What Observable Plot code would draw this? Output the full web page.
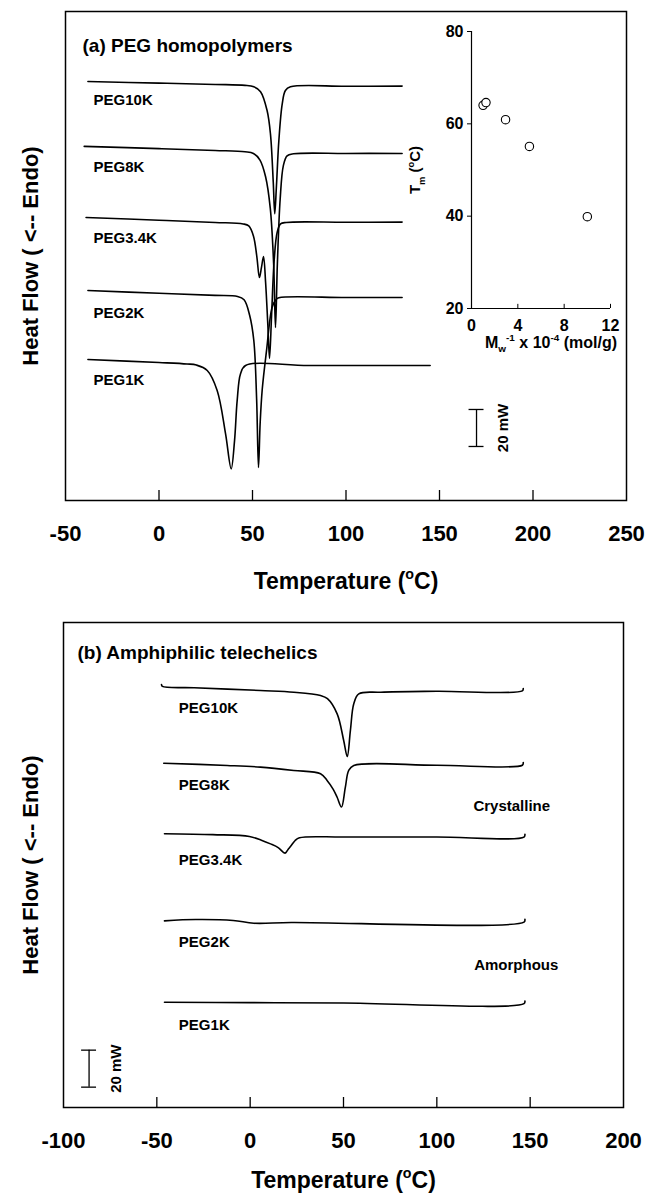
<!DOCTYPE html>
<html><head><meta charset="utf-8">
<script src="https://cdn.jsdelivr.net/npm/d3@7"></script>
<script src="https://cdn.jsdelivr.net/npm/@observablehq/plot@0.6"></script>
<style>
body{margin:0;background:#fff;}
#wrap{position:relative;width:648px;height:1203px;background:#fff;}
#wrap svg{position:absolute;overflow:visible;}
</style></head><body><div id="wrap"></div>
<script>
// ---------- DATA ----------
// Panel (a) PEG homopolymers : [Temperature (°C), heat flow (mW, offset)]
const xTicksA = [-50, 0, 50, 100, 150, 200, 250];
const innerTicksA = [0, 50, 100, 150, 200];
const a_PEG10K = [[-38,226.5],[0,225.6],[30,224.9],[46,224.4],[50.7,223.6],[54.3,221],[57.8,210.8],[59.6,198.2],[61.1,172],[61.9,155],[62.8,170],[64.1,194.6],[65.9,214.4],[67.6,221.6],[70.3,223.6],[100,223.9],[130,224]];
const a_PEG8K = [[-40,191.4],[0,190.2],[30,189.2],[46,188.5],[50.5,187.6],[54,184],[57,175],[59.5,158],[61.3,128],[62.3,93.5],[63.3,128],[64.8,163],[66.5,181],[68.5,186.3],[72,187.4],[100,187.6],[130,187.6]];
const a_PEG3_4K = [[-39,153],[0,151.5],[30,150.3],[45,149.5],[48,148.4],[50.5,143],[52.3,132],[53.7,120.5],[54.8,126],[55.9,131.9],[57,118],[58.2,95],[59.1,76.8],[60.2,100],[61.6,130],[63.2,145],[65,149.5],[68,150.3],[100,150.4],[130,150.5]];
const a_PEG2K = [[-38,113.5],[0,112],[30,110.9],[42,110.3],[45.5,108.5],[48.5,100],[50.7,86.5],[52.2,55],[53.2,17.8],[54.1,42],[55.2,60],[57.5,81],[60.5,104.5],[62.5,108.5],[64.1,109.6],[100,109.7],[130,109.7]];
const a_PEG1K = [[-38,76.2],[0,74.6],[15,73.8],[20,73.2],[25.8,70.3],[31.1,59.5],[35.6,36],[38.6,17.1],[40.4,32.4],[41.8,54],[43.6,68.5],[46.3,73],[80,73],[145,73]];
const labelsA = [
  {name: "PEG10K", T: -35, HF: 216.2},
  {name: "PEG8K", T: -35, HF: 180},
  {name: "PEG3.4K", T: -35, HF: 141.6},
  {name: "PEG2K", T: -35, HF: 101.2},
  {name: "PEG1K", T: -35, HF: 65.2}
];
const barA = [{T: 169.8, lo: 29.2, hi: 49.2, labelT: 184.2}];

// Inset: Tm vs 1/Mw
const insetMw = [1.0, 1.25, 2.94, 5.0, 10.0];
const insetTm = [64.0, 64.6, 60.9, 55.1, 39.9];
const insetXTicks = [0, 4, 8, 12];
const insetYTicks = [20, 40, 60, 80];

// Panel (b) Amphiphilic telechelics
const xTicksB = [-100, -50, 0, 50, 100, 150, 200];
const innerTicksB = [-50, 0, 50, 100, 150];
const b_PEG10K = [[-47.5,228.6],[-47,227.6],[-30,226.9],[5.5,225.4],[23.4,224.5],[37.7,222.7],[41.4,221],[46.6,212.8],[50.1,198.4],[52,189.7],[53.7,203.8],[55.5,218.2],[58.2,223.6],[70,224.5],[100,225],[145.8,225.2],[146.3,226.5]];
const b_PEG8K = [[-46.3,186.1],[-12.3,184.9],[5.5,184],[23.4,182.2],[37.7,180.4],[41.2,176.8],[44.5,172],[46.6,167.7],[48.9,162.4],[51,173.2],[52.8,182.2],[55.5,184.9],[100,185],[145.8,185],[146.3,186.5]];
const b_PEG3_4K = [[-45.9,148],[-20,147.5],[-0.4,146.5],[6,144.5],[10.9,142.5],[15,140.5],[18.7,137.5],[20.3,139.5],[22,141.6],[24,144.2],[26.4,145.8],[50,146.2],[100,146.2],[146.7,146.2],[147.2,147.7]];
const b_PEG2K = [[-45.9,100.9],[-29.2,101.6],[-9.1,101.1],[2,99.6],[22,100],[146.7,100.2],[147.2,101.7]];
const b_PEG1K = [[-45.9,56.9],[0,56.7],[50,56.5],[146.7,56.1],[147.2,57.5]];
const labelsB = [
  {name: "PEG10K", T: -38.2, HF: 215.7},
  {name: "PEG8K", T: -38.2, HF: 174},
  {name: "PEG3.4K", T: -38.2, HF: 133.5},
  {name: "PEG2K", T: -38.2, HF: 89.4},
  {name: "PEG1K", T: -38.2, HF: 44.3}
];
const notesB = [
  {name: "Crystalline", T: 119.6, HF: 162.7},
  {name: "Amorphous", T: 120, HF: 76.8}
];
const barB = [{T: -86.3, lo: 11, hi: 31, labelT: -71.6}];

// ---------- DRAW ----------
const FONT = "'Liberation Sans', Arial, Helvetica, sans-serif";
const PXPERMW = 1.85;
const TICKLEN = 10 / PXPERMW;
const wrap = document.getElementById("wrap");

function caps(bar, half) {
  return bar.flatMap(b => [{y: b.lo, x1: b.T - half, x2: b.T + half}, {y: b.hi, x1: b.T - half, x2: b.T + half}]);
}
const lineOpts = {x: d => d[0], y: d => d[1], curve: "catmull-rom", stroke: "black", strokeWidth: 1.6};

function setRich(svg, match, parts, fs) {
  svg.querySelectorAll("text").forEach(t => {
    if (t.textContent !== match) return;
    while (t.firstChild) t.removeChild(t.firstChild);
    let cur = 0;
    for (const [s, shift, scale] of parts) {
      const ts = document.createElementNS("http://www.w3.org/2000/svg", "tspan");
      const target = shift * fs;
      ts.setAttribute("dy", String(target - cur));
      cur = target;
      if (scale !== 1) ts.setAttribute("font-size", String(fs * scale));
      ts.textContent = s;
      t.appendChild(ts);
    }
  });
}

function panel(o) {
  return Plot.plot({
    width: 648, height: o.height,
    marginTop: o.mt, marginBottom: o.mb, marginLeft: o.ml, marginRight: o.mr,
    style: {fontFamily: FONT, fontWeight: "bold", background: "transparent", color: "black"},
    x: {domain: o.xDomain},
    y: {domain: [0, o.plotH / PXPERMW], axis: null},
    marks: [
      Plot.frame({stroke: "black", strokeWidth: 1.5}),
      Plot.ruleX(o.innerTicks, {y1: 0, y2: TICKLEN, stroke: "black", strokeWidth: 1.3}),
      Plot.axisX({ticks: o.xTicks, tickSize: 0, tickPadding: 25, fontSize: 22, fontWeight: "bold", label: null, tickFormat: d => String(d)}),
      ...o.curves.map(c => Plot.line(c, lineOpts)),
      Plot.text(o.labels, {x: "T", y: "HF", text: "name", textAnchor: "start", fontSize: 15, fontWeight: "bold"}),
      Plot.text(o.notes || [], {x: "T", y: "HF", text: "name", textAnchor: "start", fontSize: 15, fontWeight: "bold"}),
      Plot.ruleX(o.bar, {x: "T", y1: "lo", y2: "hi", stroke: "black", strokeWidth: 1.3}),
      Plot.ruleY(caps(o.bar, 4), {y: "y", x1: "x1", x2: "x2", stroke: "black", strokeWidth: 1.3}),
      Plot.text(o.bar, {x: "labelT", y: b => (b.lo + b.hi) / 2, text: () => "20 mW", rotate: -90, textAnchor: "middle", fontSize: 15, fontWeight: "bold"}),
      Plot.text([o.title], {frameAnchor: "top-left", textAnchor: "start", dx: o.titleDx, dy: o.titleDy, fontSize: 19, fontWeight: "bold"}),
      Plot.text(["Temperature (oC)"], {frameAnchor: "bottom", textAnchor: "middle", dy: o.xTitleDy, fontSize: 23, fontWeight: "bold"}),
      Plot.text(["Heat Flow ( <-- Endo)"], {frameAnchor: "left", textAnchor: "middle", dx: o.yTitleDx, rotate: -90, fontSize: 22, fontWeight: "bold"})
    ]
  });
}

const topPlot = panel({
  height: 611, mt: 11, mb: 111, ml: 65, mr: 22, plotH: 489,
  xDomain: [-50, 250], xTicks: xTicksA, innerTicks: innerTicksA,
  curves: [a_PEG10K, a_PEG8K, a_PEG3_4K, a_PEG2K, a_PEG1K],
  labels: labelsA, bar: barA,
  title: "(a) PEG homopolymers", titleDx: 17, titleDy: 27, xTitleDy: 88, yTitleDx: -35
});
topPlot.style.left = "0px"; topPlot.style.top = "0px";
wrap.appendChild(topPlot);

const botPlot = panel({
  height: 592, mt: 11, mb: 96, ml: 63, mr: 25, plotH: 485,
  xDomain: [-100, 200], xTicks: xTicksB, innerTicks: innerTicksB,
  curves: [b_PEG10K, b_PEG8K, b_PEG3_4K, b_PEG2K, b_PEG1K],
  labels: labelsB, notes: notesB, bar: barB,
  title: "(b) Amphiphilic telechelics", titleDx: 14, titleDy: 23, xTitleDy: 80, yTitleDx: -33
});
botPlot.style.left = "0px"; botPlot.style.top = "611px";
wrap.appendChild(botPlot);

const insetData = insetMw.map((m, i) => ({m, tm: insetTm[i]}));
const inset = Plot.plot({
  width: 240, height: 360, marginLeft: 71, marginRight: 30, marginTop: 31, marginBottom: 52,
  style: {fontFamily: FONT, fontWeight: "bold", background: "transparent", color: "black"},
  x: {domain: [0, 12]},
  y: {domain: [20, 80]},
  marks: [
    Plot.ruleX([0], {y1: 20, y2: 80, stroke: "black", strokeWidth: 1.2}),
    Plot.ruleY([20], {x1: 0, x2: 12, stroke: "black", strokeWidth: 1.2}),
    Plot.ruleX(insetXTicks.slice(1), {y1: 20, y2: 20.9, stroke: "black", strokeWidth: 1}),
    Plot.axisY({ticks: insetYTicks, tickSize: 4, tickPadding: 4, fontSize: 16, fontWeight: "bold", label: null}),
    Plot.axisX({ticks: insetXTicks, tickSize: 0, tickPadding: 11, fontSize: 16, fontWeight: "bold", label: null}),
    Plot.dot(insetData, {x: "m", y: "tm", r: 4.2, stroke: "black", fill: "white", strokeWidth: 1.1}),
    Plot.text(["Mw-1 x 10-4 (mol/g)"], {frameAnchor: "bottom", textAnchor: "middle", dx: 10, dy: 39, fontSize: 16, fontWeight: "bold"}),
    Plot.text(["Tm (oC)"], {frameAnchor: "left", textAnchor: "middle", dx: -56, rotate: -90, fontSize: 15, fontWeight: "bold"})
  ]
});
inset.style.left = "400px"; inset.style.top = "0px";
wrap.appendChild(inset);

const sup = [["Temperature (", 0, 1], ["o", -0.4, 0.62], ["C)", 0, 1]];
setRich(topPlot, "Temperature (oC)", sup, 23);
setRich(botPlot, "Temperature (oC)", sup, 23);
setRich(inset, "Mw-1 x 10-4 (mol/g)", [["M", 0, 1], ["w", 0.3, 0.62], ["-1", -0.4, 0.62], [" x 10", 0, 1], ["-4", -0.4, 0.62], [" (mol/g)", 0, 1]], 16);
setRich(inset, "Tm (oC)", [["T", 0, 1], ["m", 0.3, 0.62], [" (", 0, 1], ["o", -0.4, 0.62], ["C)", 0, 1]], 15);
</script>
</body></html>
